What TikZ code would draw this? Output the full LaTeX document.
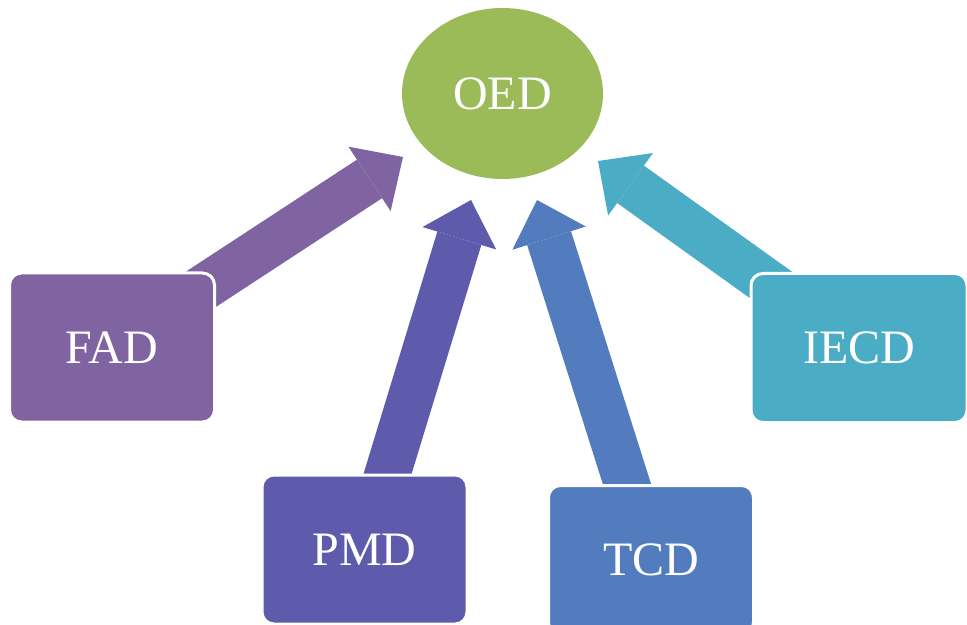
\documentclass[tikz,border=0pt]{standalone}
\usepackage{fontspec}
\setmainfont{Liberation Serif}
\usetikzlibrary{shapes.geometric,arrows.meta,backgrounds}
\definecolor{oedgreen}{RGB}{155,187,89}
\definecolor{fadpurple}{RGB}{128,100,162}
\definecolor{pmdviolet}{RGB}{95,91,172}
\definecolor{tcdblue}{RGB}{82,124,189}
\definecolor{iecdteal}{RGB}{75,172,198}
\tikzstyle{label} = [text=white, font=\fontsize{24}{28}\selectfont]
\tikzstyle{unit} = [label, draw=white, line width=1.5pt, rounded corners=6pt,
    minimum width=102.5pt, minimum height=74.5pt]
\tikzstyle{bigarrow} = [line width=23pt,
    -{Triangle[width=38.5pt, length=20pt, line width=0pt]}]

\begin{document}
\begin{tikzpicture}[x=0.5pt, y=-0.5pt]
    \useasboundingbox (0,0) rectangle (967,625);
    \node[label, ellipse, fill=oedgreen, inner sep=0pt,
        minimum width=100.5pt, minimum height=85.5pt] (oed) at (502.5,93.5) {OED};
    \node[unit, fill=fadpurple] (fad) at (112,347.5) {FAD};
    \node[unit, fill=pmdviolet] (pmd) at (364.5,549.5) {PMD};
    \node[unit, fill=tcdblue] (tcd) at (651,560) {TCD};
    \node[unit, fill=iecdteal, minimum width=108pt] (iecd) at (859,348) {IECD};
    \coordinate (fadtip) at (403,157);
    \coordinate (pmdtip) at (471,200);
    \coordinate (tcdtip) at (537,200);
    \coordinate (iecdtip) at (598,161);
    \begin{scope}[on background layer]
        \draw[bigarrow, fadpurple] (fad.center) -- (fadtip);
        \draw[bigarrow, pmdviolet] (pmd.center) -- (pmdtip);
        \draw[bigarrow, tcdblue] (tcd.center) -- (tcdtip);
        \draw[bigarrow, iecdteal] (iecd.center) -- (iecdtip);
    \end{scope}
\end{tikzpicture}
\end{document}
